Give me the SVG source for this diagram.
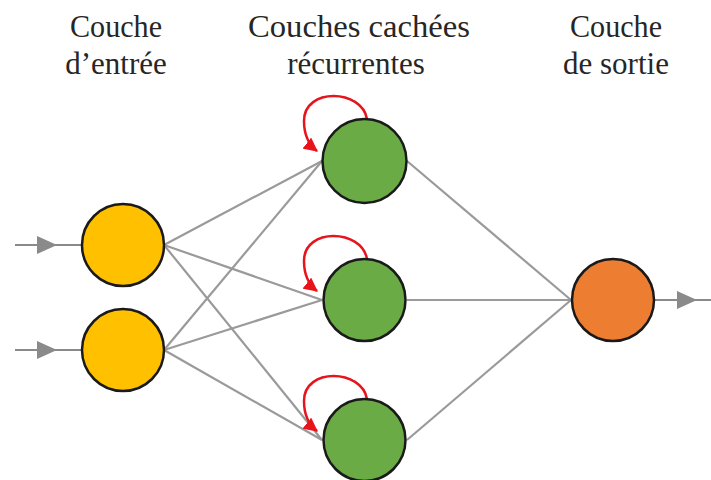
<svg xmlns="http://www.w3.org/2000/svg" width="711" height="480" viewBox="0 0 711 480">
  <style>
    .title { font-family: "Liberation Serif", "DejaVu Serif", serif; font-size: 31px; fill: #262626; text-anchor: middle; }
    .edge { stroke: #9a9a9a; stroke-width: 2.2; fill: none; }
    .io { stroke: #8a8a8a; stroke-width: 2.2; fill: none; marker-mid: url(#grayArrow); }
    .loop { stroke: #e8141c; stroke-width: 2.5; fill: none; marker-end: url(#redArrow); }
    .node { stroke: #1a1a1a; stroke-width: 2.5; }
    .input { fill: #FFC000; }
    .hidden { fill: #6AAB45; }
    .output { fill: #ED7D31; }
  </style>
  <defs>
    <marker id="grayArrow" viewBox="0 0 20 18" markerUnits="userSpaceOnUse" markerWidth="20" markerHeight="18" refX="20" refY="9" orient="auto">
      <path d="M0,0 L20,9 L0,18 z" fill="#8a8a8a"/>
    </marker>
    <marker id="redArrow" viewBox="0 0 12 12" markerUnits="userSpaceOnUse" markerWidth="14" markerHeight="14" refX="11" refY="6" orient="auto">
      <path d="M0,0 L12,6 L0,12 z" fill="#e8141c"/>
    </marker>
  </defs>

  <g id="titles">
    <text class="title" x="116" y="37" textLength="92" lengthAdjust="spacingAndGlyphs">Couche</text>
    <text class="title" x="116" y="74">d’entrée</text>
    <text class="title" x="359" y="37" textLength="222" lengthAdjust="spacingAndGlyphs">Couches cachées</text>
    <text class="title" x="356" y="74">récurrentes</text>
    <text class="title" x="616" y="37" textLength="92" lengthAdjust="spacingAndGlyphs">Couche</text>
    <text class="title" x="616" y="74">de sortie</text>
  </g>

  <g id="connectors">
    <line class="edge" x1="164" y1="245" x2="322" y2="161"/>
    <line class="edge" x1="164" y1="245" x2="322" y2="300"/>
    <line class="edge" x1="164" y1="245" x2="322" y2="440"/>
    <line class="edge" x1="164" y1="350" x2="322" y2="161"/>
    <line class="edge" x1="164" y1="350" x2="322" y2="300"/>
    <line class="edge" x1="164" y1="350" x2="322" y2="440"/>
    <line class="edge" x1="407" y1="161" x2="571" y2="300"/>
    <line class="edge" x1="407" y1="300" x2="571" y2="300"/>
    <line class="edge" x1="407" y1="440" x2="571" y2="300"/>
    <path class="io" d="M15,245 L57,245 L82,245"/>
    <path class="io" d="M15,350 L57,350 L82,350"/>
    <path class="io" d="M655,300 L697,300 L711,300"/>
    <path class="loop" d="M367,119 C362,89 304,87 304,121 C304,134 308,144 317,151"/>
    <path class="loop" d="M367,259 C362,229 304,227 304,261 C304,274 308,284 317,291"/>
    <path class="loop" d="M367,399 C362,369 304,367 304,401 C304,414 308,424 317,431"/>
  </g>

  <g id="input1"><circle class="node input" cx="123" cy="245" r="41"/></g>
  <g id="input2"><circle class="node input" cx="123" cy="350" r="41"/></g>
  <g id="hidden1"><circle class="node hidden" cx="364.5" cy="161" r="42"/></g>
  <g id="hidden2"><circle class="node hidden" cx="364.5" cy="300" r="41"/></g>
  <g id="hidden3"><circle class="node hidden" cx="364.5" cy="440" r="41"/></g>
  <g id="output"><circle class="node output" cx="613" cy="300" r="41"/></g>
</svg>
